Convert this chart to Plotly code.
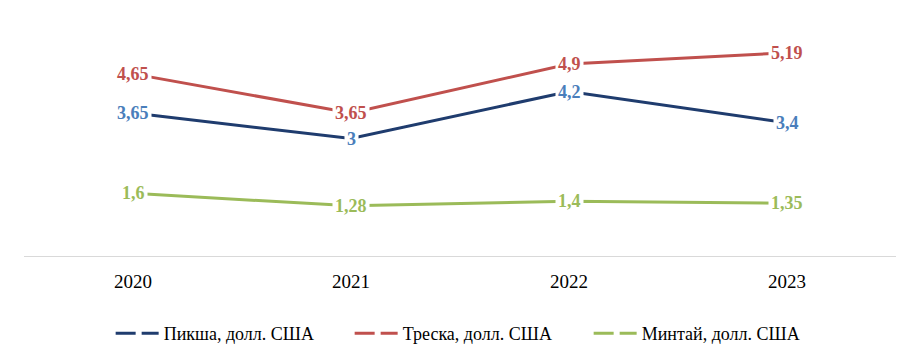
import plotly.graph_objects as go

years = ["2020", "2021", "2022", "2023"]
piksha = [3.65, 3.0, 4.2, 3.4]
treska = [4.65, 3.65, 4.9, 5.19]
mintai = [1.6, 1.28, 1.4, 1.35]
labels_piksha = ["3,65", "3", "4,2", "3,4"]
labels_treska = ["4,65", "3,65", "4,9", "5,19"]
labels_mintai = ["1,6", "1,28", "1,4", "1,35"]
names = ["Пикша, долл. США", "Треска, долл. США", "Минтай, долл. США"]

line_colors = ["#1f3c6e", "#c0504d", "#9bbb59"]
label_colors = ["#4a7ebb", "#c0504d", "#9bbb59"]
FONT = "Times New Roman, Liberation Serif, serif"

fig = go.Figure()
series = [piksha, treska, mintai]
labels = [labels_piksha, labels_treska, labels_mintai]

for vals, col in zip(series, line_colors):
    fig.add_trace(go.Scatter(x=years, y=vals, mode="lines",
                             line=dict(color=col, width=3),
                             showlegend=False, hoverinfo="skip"))

for name, col in zip(names, line_colors):
    fig.add_trace(go.Scatter(x=[None], y=[None], mode="lines", name=name,
                             line=dict(color=col, width=3, dash="20px,6px")))

for vals, labs, col in zip(series, labels, label_colors):
    for i, (y, t) in enumerate(zip(vals, labs)):
        fig.add_annotation(x=i, y=y, xref="x", yref="y", text=t, showarrow=False,
                           bgcolor="white", borderpad=2,
                           font=dict(family=FONT, size=18, color=col, weight="bold"))

fig.update_layout(
    width=901, height=345,
    margin=dict(l=16, r=13, t=13, b=97, autoexpand=False),
    paper_bgcolor="white", plot_bgcolor="white",
    font=dict(family=FONT, color="black"),
    xaxis=dict(type="category", showgrid=False, showline=True,
               linecolor="#d9d9d9", linewidth=1,
               ticks="outside", ticklen=8, tickcolor="rgba(0,0,0,0)",
               tickfont=dict(family=FONT, size=19, color="black"),
               range=[-0.5, 3.5], fixedrange=True),
    yaxis=dict(range=[0, 6], visible=False, showgrid=False, zeroline=False),
    legend=dict(orientation="h", x=0.5105, xanchor="center", y=-0.33, yanchor="middle",
                font=dict(family=FONT, size=18, color="black"),
                itemwidth=43, tracegroupgap=0,
                entrywidth=181, entrywidthmode="pixels"),
    showlegend=True,
)

fig.write_html("out.html")
